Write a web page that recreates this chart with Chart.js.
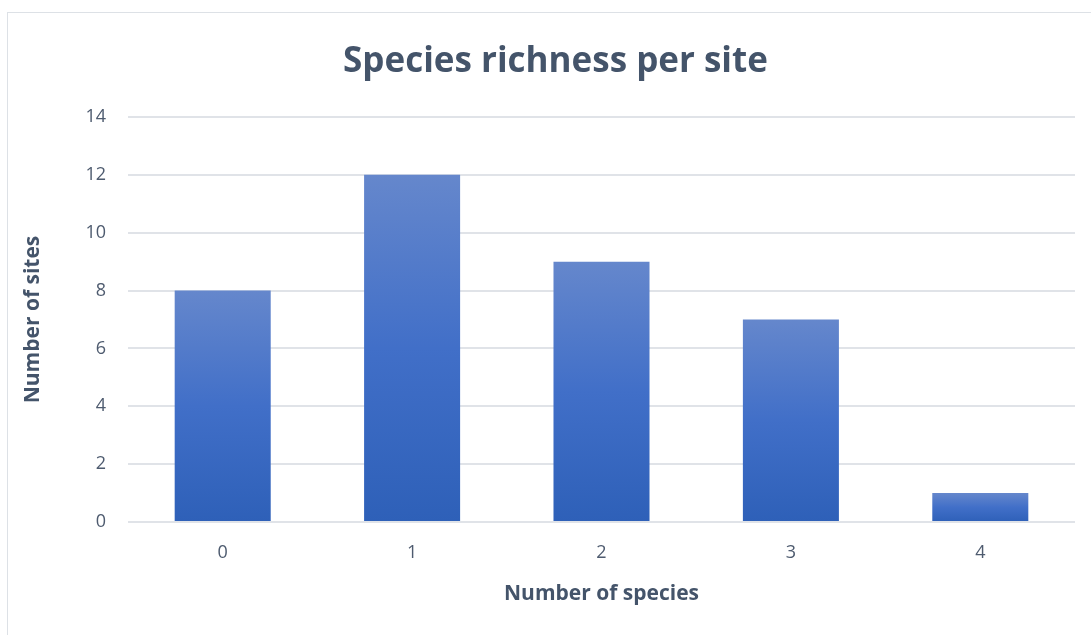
<!DOCTYPE html>
<html>
<head>
<meta charset="utf-8">
<script src="https://cdn.jsdelivr.net/npm/chart.js@4"></script>
<style>
  html, body { margin: 0; padding: 0; background: #fff; overflow: hidden; }
  #wrap { position: relative; width: 1091px; height: 635px; }
  #frame { position: absolute; left: 7px; top: 12px; width: 1100px; height: 640px; border: 1px solid #dde1e6; box-sizing: border-box; }
  canvas { position: absolute; left: 0; top: 0; }
</style>
</head>
<body>
<div id="wrap">
  <div id="frame"></div>
  <canvas id="chart" width="1091" height="635"></canvas>
</div>
<script>
// species count per site and how many sites had it
const speciesCounts = ['0', '1', '2', '3', '4'];
const siteCounts = [8, 12, 9, 7, 1];
const yTicks = [0, 2, 4, 6, 8, 10, 12, 14];

const textColor = '#44546a';
const tickColor = '#4e5b6f';
const gridColor = '#e0e3e8';
const fontFamily = "'Open Sans', 'Noto Sans', sans-serif";

// vertical gradient per bar, light at the top, deeper blue at the base
function barGradient(ctx) {
  const chart = ctx.chart;
  const yScale = chart.scales.y;
  if (!chart.chartArea || !yScale || ctx.raw === undefined) return '#4472c4';
  const top = yScale.getPixelForValue(ctx.raw);
  const base = yScale.getPixelForValue(0);
  if (!isFinite(top) || !isFinite(base) || top === base) return '#4472c4';
  const g = chart.ctx.createLinearGradient(0, top, 0, base);
  g.addColorStop(0, '#6587cc');
  g.addColorStop(0.5, '#416fc8');
  g.addColorStop(1, '#2e60b8');
  return g;
}

new Chart(document.getElementById('chart').getContext('2d'), {
  type: 'bar',
  data: {
    labels: speciesCounts,
    datasets: [{
      label: 'Sites',
      data: siteCounts,
      backgroundColor: barGradient,
      borderWidth: 0,
      categoryPercentage: 1,
      barPercentage: 0.507
    }]
  },
  options: {
    responsive: false,
    animation: false,
    // left padding keeps the title centred on the frame
    layout: { padding: { left: 36, right: 16, top: 0, bottom: 0 } },
    plugins: {
      legend: { display: false },
      tooltip: { enabled: false },
      title: {
        display: true,
        text: 'Species richness per site',
        color: textColor,
        font: { family: fontFamily, size: 35, weight: 'bold' },
        padding: { top: 41, bottom: 34 }
      }
    },
    scales: {
      x: {
        grid: { display: false },
        border: { display: false },
        ticks: { color: tickColor, font: { family: fontFamily, size: 18 }, padding: 12 },
        title: {
          display: true,
          text: 'Number of species',
          color: textColor,
          font: { family: fontFamily, size: 21, weight: 'bold' },
          padding: { top: 4, bottom: 28 }
        },
        afterFit: (scale) => { scale.height = 113; }
      },
      y: {
        min: 0,
        max: 14,
        afterBuildTicks: (scale) => { scale.ticks = yTicks.map(v => ({ value: v })); },
        grid: { color: gridColor, lineWidth: 2, drawTicks: false },
        border: { display: false },
        ticks: { color: tickColor, font: { family: fontFamily, size: 18 }, padding: 22 },
        title: {
          display: true,
          text: 'Number of sites',
          color: textColor,
          font: { family: fontFamily, size: 21, weight: 'bold' },
          padding: { top: -16, bottom: 0 }
        },
        afterFit: (scale) => { scale.width = 92; }
      }
    }
  }
});
</script>
</body>
</html>
